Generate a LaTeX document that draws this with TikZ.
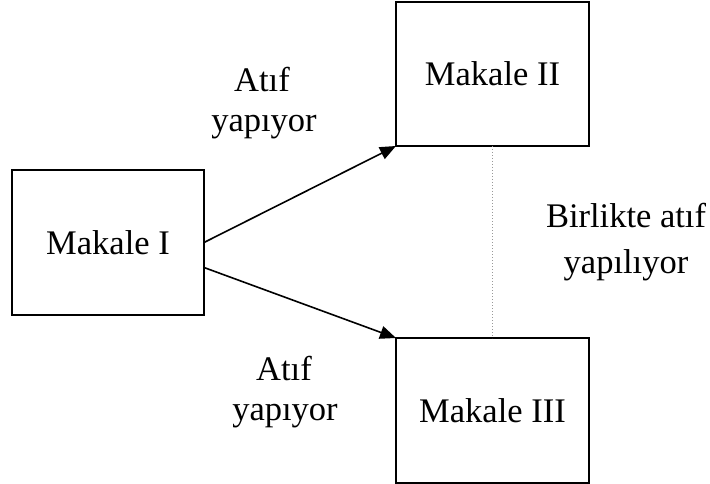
\documentclass[tikz,border=0pt]{standalone}
\usepackage{fontspec}
\setmainfont{Liberation Serif}
\usetikzlibrary{arrows.meta}
\begin{document}
\begin{tikzpicture}[x=1pt,y=-1pt,
  box/.style={draw=black,line width=2pt,inner sep=0pt,outer sep=0pt,
    font=\fontsize{34.5}{40}\selectfont},
  lbl/.style={anchor=base,inner sep=0pt,font=\fontsize{34.5}{40}\selectfont},
  cite/.style={line width=1.6pt,-{Triangle[length=16pt,width=13pt]}},
  cocite/.style={draw=gray!80,line width=1pt,dotted}]
\useasboundingbox (0,0) rectangle (710,484);
\node[box,minimum width=192pt,minimum height=145pt] (m1) at (108,242.5) {Makale I};
\node[box,minimum width=193pt,minimum height=144pt] (m2) at (492.5,74) {Makale II};
\node[box,minimum width=193pt,minimum height=145pt] (m3) at (492.5,410.5) {Makale III};
\draw[cite] (m1.east) -- (m2.south west);
\draw[cite] ([yshift=-25pt]m1.east) -- (m3.north west);
\draw[cocite] (m2.south) -- (m3.north);
\node[lbl] (a1) at (262,92) {Atıf};
\node[lbl] (a2) at (264,132) {yapıyor};
\node[lbl] (b1) at (284,380) {Atıf};
\node[lbl] (b2) at (285,420) {yapıyor};
\node[lbl] (c1) at (626,227) {Birlikte atıf};
\node[lbl] (c2) at (626,273) {yapılıyor};
\end{tikzpicture}
\end{document}
